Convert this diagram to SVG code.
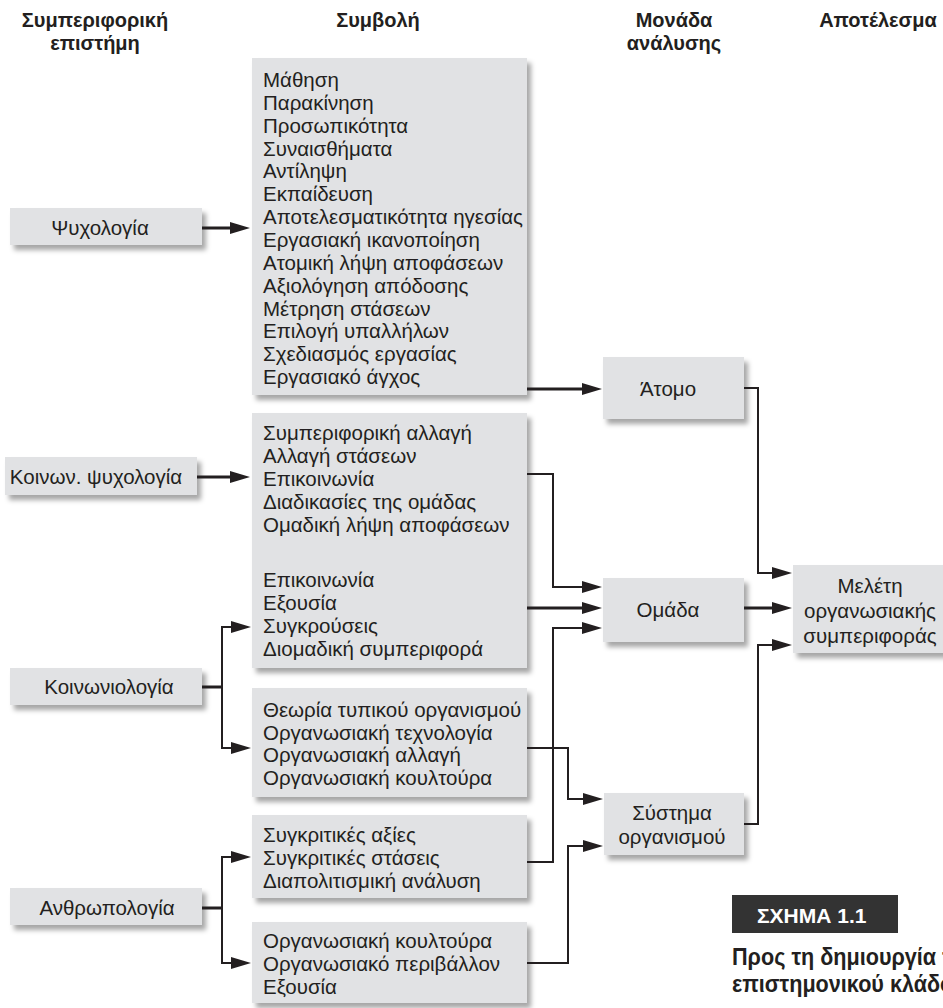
<svg xmlns="http://www.w3.org/2000/svg" width="943" height="1008" viewBox="0 0 943 1008">
<defs>
<filter id="sh" x="-10%" y="-10%" width="130%" height="140%">
<feDropShadow dx="4" dy="5" stdDeviation="2.5" flood-color="#000" flood-opacity="0.35"/>
</filter>
<marker id="ah" viewBox="0 0 20 12" refX="13" refY="6" markerWidth="20" markerHeight="12" markerUnits="userSpaceOnUse" orient="auto">
<path d="M0,0 L20,6 L0,12 z" fill="#231f20"/>
</marker>
</defs>
<style>
.box{fill:#e1e2e4;filter:url(#sh)}
text{font-family:"Liberation Sans",Arial,sans-serif;fill:#231f20}
.t{font-size:20.5px}
.c{text-anchor:middle}
.h{font-size:20px;font-weight:bold;text-anchor:middle}
.ln{fill:none;stroke:#231f20;stroke-linejoin:miter}
.thk{stroke-width:3}
.thn{stroke-width:2}
.arr{marker-end:url(#ah)}
.cap{font-family:"Liberation Sans",Arial,sans-serif;font-weight:bold}
</style>
<rect width="943" height="1008" fill="#fff"/>

<g id="headers">
<text class="h" x="95" y="27">Συμπεριφορική</text>
<text class="h" x="95" y="50">επιστήμη</text>
<text class="h" x="378" y="27">Συμβολή</text>
<text class="h" x="674" y="27">Μονάδα</text>
<text class="h" x="674" y="50">ανάλυσης</text>
<text class="h" x="878" y="27">Αποτέλεσμα</text>
</g>

<g id="psychology">
<rect class="box" x="10" y="208" width="192" height="37"/>
<text class="t c" x="100" y="235">Ψυχολογία</text>
</g>
<g id="social-psychology">
<rect class="box" x="5" y="457" width="192" height="38"/>
<text class="t c" x="96" y="484">Κοινων. ψυχολογία</text>
</g>
<g id="sociology">
<rect class="box" x="10" y="668" width="192" height="37"/>
<text class="t c" x="109" y="694">Κοινωνιολογία</text>
</g>
<g id="anthropology">
<rect class="box" x="10" y="888" width="192" height="37"/>
<text class="t c" x="107" y="915">Ανθρωπολογία</text>
</g>

<g id="contrib-1">
<rect class="box" x="252" y="58" width="275" height="337"/>
<text class="t" x="263">
<tspan x="263" y="87">Μάθηση</tspan>
<tspan x="263" y="110">Παρακίνηση</tspan>
<tspan x="263" y="133">Προσωπικότητα</tspan>
<tspan x="263" y="156">Συναισθήματα</tspan>
<tspan x="263" y="178">Αντίληψη</tspan>
<tspan x="263" y="201">Εκπαίδευση</tspan>
<tspan x="263" y="224">Αποτελεσματικότητα ηγεσίας</tspan>
<tspan x="263" y="247">Εργασιακή ικανοποίηση</tspan>
<tspan x="263" y="270">Ατομική λήψη αποφάσεων</tspan>
<tspan x="263" y="293">Αξιολόγηση απόδοσης</tspan>
<tspan x="263" y="316">Μέτρηση στάσεων</tspan>
<tspan x="263" y="338">Επιλογή υπαλλήλων</tspan>
<tspan x="263" y="361">Σχεδιασμός εργασίας</tspan>
<tspan x="263" y="384">Εργασιακό άγχος</tspan>
</text>
</g>

<g id="contrib-2">
<rect class="box" x="252" y="413" width="275" height="255"/>
<text class="t" x="263">
<tspan x="263" y="440">Συμπεριφορική αλλαγή</tspan>
<tspan x="263" y="463">Αλλαγή στάσεων</tspan>
<tspan x="263" y="486">Επικοινωνία</tspan>
<tspan x="263" y="509">Διαδικασίες της ομάδας</tspan>
<tspan x="263" y="532">Ομαδική λήψη αποφάσεων</tspan>
<tspan x="263" y="587">Επικοινωνία</tspan>
<tspan x="263" y="610">Εξουσία</tspan>
<tspan x="263" y="633">Συγκρούσεις</tspan>
<tspan x="263" y="656">Διομαδική συμπεριφορά</tspan>
</text>
</g>

<g id="contrib-3">
<rect class="box" x="252" y="688" width="275" height="109"/>
<text class="t" x="263">
<tspan x="263" y="717">Θεωρία τυπικού οργανισμού</tspan>
<tspan x="263" y="740">Οργανωσιακή τεχνολογία</tspan>
<tspan x="263" y="762">Οργανωσιακή αλλαγή</tspan>
<tspan x="263" y="785">Οργανωσιακή κουλτούρα</tspan>
</text>
</g>

<g id="contrib-4">
<rect class="box" x="252" y="815" width="275" height="83"/>
<text class="t" x="263">
<tspan x="263" y="842">Συγκριτικές αξίες</tspan>
<tspan x="263" y="865">Συγκριτικές στάσεις</tspan>
<tspan x="263" y="888">Διαπολιτισμική ανάλυση</tspan>
</text>
</g>

<g id="contrib-5">
<rect class="box" x="252" y="922" width="275" height="81"/>
<text class="t" x="263">
<tspan x="263" y="948">Οργανωσιακή κουλτούρα</tspan>
<tspan x="263" y="971">Οργανωσιακό περιβάλλον</tspan>
<tspan x="263" y="994">Εξουσία</tspan>
</text>
</g>

<g id="individual">
<rect class="box" x="603" y="357" width="141" height="62"/>
<text class="t c" x="668" y="396">Άτομο</text>
</g>
<g id="group">
<rect class="box" x="603" y="578" width="141" height="64"/>
<text class="t c" x="668" y="617">Ομάδα</text>
</g>
<g id="org-system">
<rect class="box" x="604" y="793" width="140" height="62"/>
<text class="t c" x="672" y="820">Σύστημα</text>
<text class="t c" x="672" y="844">οργανισμού</text>
</g>
<g id="ob-study">
<rect class="box" x="793" y="565" width="170" height="88"/>
<text class="t c" x="870" y="593">Μελέτη</text>
<text class="t c" x="870" y="618">οργανωσιακής</text>
<text class="t c" x="870" y="643">συμπεριφοράς</text>
</g>

<g id="connectors">
<path class="ln thk arr" d="M202,228 H243"/>
<path class="ln thk arr" d="M197,477 H243"/>
<path class="ln thk" d="M202,687 H222"/>
<path class="ln thn" d="M222,627 V748"/>
<path class="ln thn arr" d="M221,627 H244"/>
<path class="ln thn arr" d="M221,748 H244"/>
<path class="ln thk" d="M202,908 H222"/>
<path class="ln thn" d="M222,857 V963"/>
<path class="ln thn arr" d="M221,857 H244"/>
<path class="ln thn arr" d="M221,963 H244"/>
<path class="ln thk arr" d="M527,389 H595"/>
<path class="ln thn arr" d="M744,388 H758 V573 H785"/>
<path class="ln thn arr" d="M527,474 H553 V587 H595"/>
<path class="ln thk arr" d="M527,608 H595"/>
<path class="ln thn arr" d="M527,862 H553 V628 H595"/>
<path class="ln thk arr" d="M744,608 H785"/>
<path class="ln thn arr" d="M744,824 H758 V645 H785"/>
<path class="ln thn arr" d="M527,748 H568 V799 H596"/>
<path class="ln thn arr" d="M527,963 H568 V846 H596"/>
</g>

<g id="figure-label">
<rect x="732" y="895" width="166" height="38" fill="#333333"/>
<text class="cap" x="757" y="923" font-size="21" style="fill:#fff">ΣΧΗΜΑ 1.1</text>
<text class="cap" font-size="24" transform="translate(732,965) scale(0.9,1)">Προς τη δημιουργία τ</text>
<text class="cap" font-size="24" transform="translate(732,992) scale(0.9,1)">επιστημονικού κλάδο</text>
</g>
</svg>
